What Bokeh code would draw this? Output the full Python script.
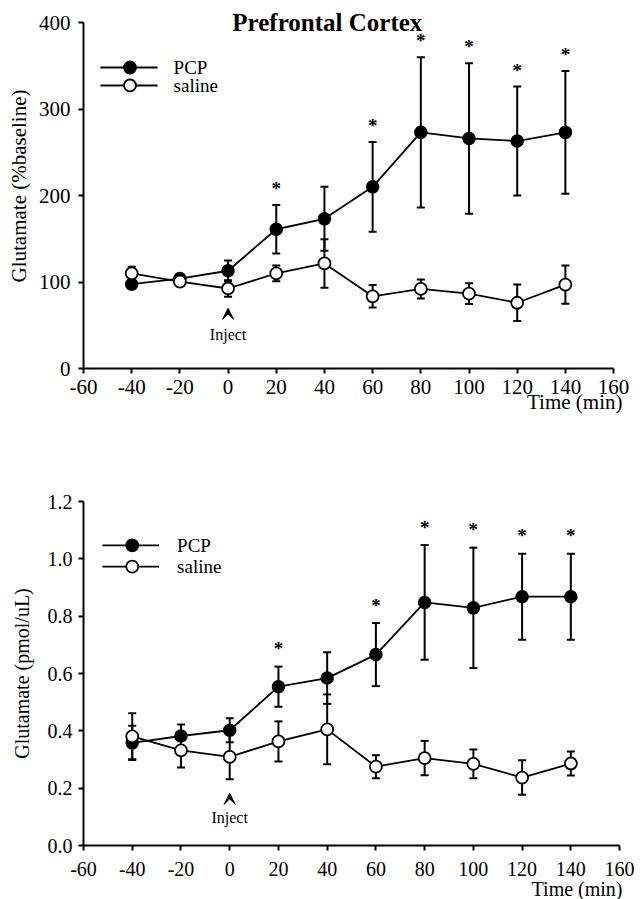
from bokeh.plotting import figure
from bokeh.models import (ColumnDataSource, Whisker, TeeHead, Label, Arrow, VeeHead,
                          FixedTicker, PrintfTickFormatter, Title)
from bokeh.layouts import column
from bokeh.embed import file_html
from bokeh.resources import INLINE
from bokeh.core.properties import value

# ---------------- data ----------------
time_min = [-40, -20, 0, 20, 40, 60, 80, 100, 120, 140]
significant = [False, False, False, True, False, True, True, True, True, True]

pct_pcp = [97.5, 104, 113, 161, 173, 210, 273, 266, 263, 273]
pct_pcp_err = [5, 5, 12, 28, 37, 52, 87, 87, 63, 71]
pct_sal = [110, 100.5, 92.5, 110, 121.5, 83.5, 92, 86.5, 76, 97]
pct_sal_err = [7.5, 5, 9.5, 9, 28, 13, 11, 12, 21, 22]

conc_pcp = [0.358, 0.382, 0.402, 0.554, 0.584, 0.666, 0.848, 0.829, 0.868, 0.868]
conc_pcp_err = [0.06, 0.04, 0.042, 0.07, 0.09, 0.11, 0.20, 0.21, 0.15, 0.15]
conc_sal = [0.381, 0.332, 0.309, 0.363, 0.405, 0.275, 0.305, 0.285, 0.237, 0.286]
conc_sal_err = [0.08, 0.06, 0.078, 0.07, 0.122, 0.04, 0.06, 0.05, 0.06, 0.042]

x_ticks = [-60, -40, -20, 0, 20, 40, 60, 80, 100, 120, 140, 160]
pct_ticks = [0, 100, 200, 300, 400]
conc_ticks = [0.0, 0.2, 0.4, 0.6, 0.8, 1.0, 1.2]

series_names = ["PCP", "saline"]

FONT = "Liberation Serif"


def make_panel(mean_a, err_a, mean_b, err_b, x_end, y_range, y_bounds, y_ticks, y_label, fmt,
               height, borders, tick_font, label_standoff_x, label_standoff_y,
               ylabel_standoff, xlabel_standoff, star_gap, legend_geo, inject_geo,
               title_geo=None):
    p = figure(width=636, height=height, x_range=(-60, x_end), y_range=y_range,
               output_backend="svg", toolbar_location=None,
               min_border_left=borders[0], min_border_right=borders[1],
               min_border_top=borders[2], min_border_bottom=borders[3])
    p.outline_line_color = None
    p.grid.visible = False
    p.background_fill_color = "white"
    p.border_fill_color = "white"

    for ax in (p.xaxis[0], p.yaxis[0]):
        ax.axis_line_width = 2
        ax.major_tick_line_width = 2
        ax.major_tick_out = 5
        ax.major_tick_in = 0
        ax.minor_tick_line_color = None
        ax.major_label_text_font = FONT
        ax.major_label_text_font_size = tick_font
        ax.major_label_text_color = "black"
        ax.axis_line_color = "black"
        ax.major_tick_line_color = "black"
        ax.axis_label_text_font = FONT
        ax.axis_label_text_font_size = tick_font
        ax.axis_label_text_font_style = "normal"
        ax.axis_label_text_color = "black"
    p.xaxis.ticker = FixedTicker(ticks=x_ticks)
    p.yaxis.ticker = FixedTicker(ticks=y_ticks)
    p.xaxis.formatter = PrintfTickFormatter(format="%d")
    p.yaxis.formatter = PrintfTickFormatter(format=fmt)
    p.xaxis.bounds = (x_ticks[0], x_ticks[-1])
    p.yaxis.bounds = y_bounds
    p.xaxis.major_label_standoff = label_standoff_x
    p.yaxis.major_label_standoff = label_standoff_y
    p.yaxis.axis_label = y_label
    p.yaxis.axis_label_standoff = ylabel_standoff

    # x-axis title, right aligned under the axis
    p.add_layout(Title(text="Time (min)", align="right", text_font=FONT,
                       text_font_size=tick_font, text_font_style="normal",
                       text_color="black", standoff=xlabel_standoff), "below")

    # error bars
    for mean, err in ((mean_a, err_a), (mean_b, err_b)):
        src = ColumnDataSource(dict(
            x=time_min,
            upper=[m + e for m, e in zip(mean, err)],
            lower=[m - e for m, e in zip(mean, err)]))
        w = Whisker(base="x", upper="upper", lower="lower", source=src,
                    line_width=2, line_color="black", level="underlay",
                    upper_head=TeeHead(size=8, line_width=2, line_color="black"),
                    lower_head=TeeHead(size=8, line_width=2, line_color="black"))
        p.add_layout(w)

    # lines + markers
    p.line(time_min, mean_a, line_width=1.8, color="black")
    p.line(time_min, mean_b, line_width=1.8, color="black")
    p.scatter(time_min, mean_a, size=12, fill_color="black", line_color="black", line_width=1.5)
    p.scatter(time_min, mean_b, size=12, fill_color="white", line_color="black", line_width=1.8)

    # significance stars
    sx = [t for t, s in zip(time_min, significant) if s]
    sy = [m + e + star_gap for m, e, s in zip(mean_a, err_a, significant) if s]
    p.text(sx, sy, text=["*"] * len(sx), text_align="center", text_baseline="middle",
           text_font=value(FONT), text_font_size="19px", text_font_style="bold",
           text_color="black")

    # legend (drawn manually)
    lx0, lx1, lxm, ltx, ly_a, ly_b, lfont = legend_geo
    for ly, fill in ((ly_a, "black"), (ly_b, "white")):
        p.line([lx0, lx1], [ly, ly], line_width=1.8, color="black")
        p.scatter([lxm], [ly], size=12, fill_color=fill, line_color="black", line_width=1.8)
    for ly, name in zip((ly_a, ly_b), series_names):
        p.add_layout(Label(x=ltx, y=ly, text=name, text_font=FONT, text_font_size=lfont,
                           text_baseline="middle", text_align="left", text_color="black"))

    # inject arrow
    ix, ibase, itip, itext = inject_geo
    p.add_layout(Arrow(x_start=ix, y_start=ibase, x_end=ix, y_end=itip, line_alpha=0,
                       end=VeeHead(size=11, fill_color="black", line_color="black", line_width=1)))
    p.add_layout(Label(x=ix, y=itext, text="Inject", text_font=FONT, text_font_size="16px",
                       text_align="center", text_baseline="middle", text_color="black"))

    if title_geo is not None:
        gx, gy = title_geo
        p.add_layout(Label(x=gx, y=gy, text="Prefrontal Cortex", text_font=FONT,
                           text_font_size="25px", text_font_style="bold",
                           text_align="center", text_baseline="alphabetic", text_color="black"))
    return p


top = make_panel(pct_pcp, pct_pcp_err, pct_sal, pct_sal_err, 163.7, (0, 422), (0, 400), pct_ticks,
                 "Glutamate (%baseline)", "%d", 438, (76, 14, 3, 70), "21px", 6, 8,
                 ylabel_standoff=5, xlabel_standoff=-18,
                 star_gap=19,
                 legend_geo=(-53.0, -29.3, -40.7, -22.6, 348, 327.2, "19px"),
                 inject_geo=(0, 56, 69.6, 39.5),
                 title_geo=(41.2, 400))

bottom = make_panel(conc_pcp, conc_pcp_err, conc_sal, conc_sal_err, 161.2, (0, 1.2), (0, 1.2), conc_ticks,
                    "Glutamate (pmol/uL)", "%.1f", 461, (83, 11, 63, 54), "20px", 11, 6,
                    ylabel_standoff=12, xlabel_standoff=-6,
                    star_gap=0.062,
                    legend_geo=(-52.2, -29.0, -40.0, -21.6, 1.047, 0.973, "19px"),
                    inject_geo=(0, 0.142, 0.182, 0.096))

layout = column(top, bottom, spacing=0)
open("out.html", "w").write(file_html(layout, INLINE))
